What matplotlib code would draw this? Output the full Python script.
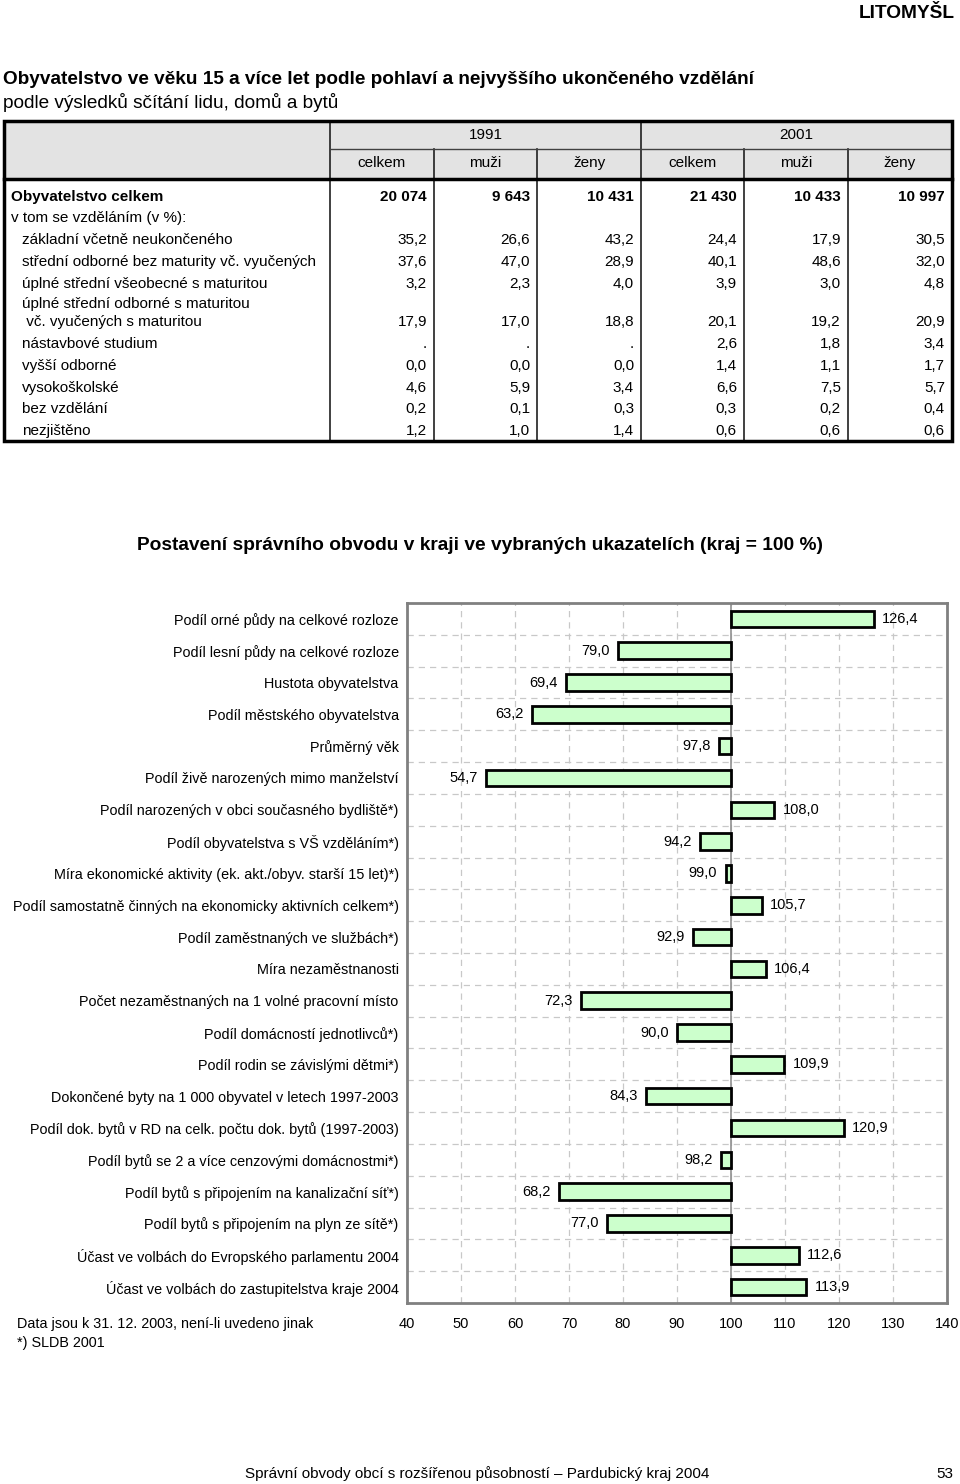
import matplotlib
matplotlib.use("Agg")
import matplotlib.pyplot as plt
from matplotlib.patches import Rectangle

plt.rcParams['font.family'] = ['Liberation Sans', 'DejaVu Sans']

# ---------------- data ----------------
page_title = "LITOMYŠL"
table_title1 = "Obyvatelstvo ve věku 15 a více let podle pohlaví a nejvyššího ukončeného vzdělání"
table_title2 = "podle výsledků sčítání lidu, domů a bytů"
years = ["1991", "2001"]
sub_cols = ["celkem", "muži", "ženy", "celkem", "muži", "ženy"]

total_label = "Obyvatelstvo celkem"
totals = [20074, 9643, 10431, 21430, 10433, 10997]
share_header = "v tom se vzděláním (v %):"
edu_labels = [
    "základní včetně neukončeného",
    "střední odborné bez maturity vč. vyučených",
    "úplné střední všeobecné s maturitou",
    "úplné střední odborné s maturitou\n vč. vyučených s maturitou",
    "nástavbové studium",
    "vyšší odborné",
    "vysokoškolské",
    "bez vzdělání",
    "nezjištěno",
]
edu_1991_celkem = [35.2, 37.6, 3.2, 17.9, None, 0.0, 4.6, 0.2, 1.2]
edu_1991_muzi = [26.6, 47.0, 2.3, 17.0, None, 0.0, 5.9, 0.1, 1.0]
edu_1991_zeny = [43.2, 28.9, 4.0, 18.8, None, 0.0, 3.4, 0.3, 1.4]
edu_2001_celkem = [24.4, 40.1, 3.9, 20.1, 2.6, 1.4, 6.6, 0.3, 0.6]
edu_2001_muzi = [17.9, 48.6, 3.0, 19.2, 1.8, 1.1, 7.5, 0.2, 0.6]
edu_2001_zeny = [30.5, 32.0, 4.8, 20.9, 3.4, 1.7, 5.7, 0.4, 0.6]

chart_title = "Postavení správního obvodu v kraji ve vybraných ukazatelích (kraj = 100 %)"
indicators = [
    "Podíl orné půdy na celkové rozloze",
    "Podíl lesní půdy na celkové rozloze",
    "Hustota obyvatelstva",
    "Podíl městského obyvatelstva",
    "Průměrný věk",
    "Podíl živě narozených mimo manželství",
    "Podíl narozených v obci současného bydliště*)",
    "Podíl obyvatelstva s VŠ vzděláním*)",
    "Míra ekonomické aktivity (ek. akt./obyv. starší 15 let)*)",
    "Podíl samostatně činných na ekonomicky aktivních celkem*)",
    "Podíl zaměstnaných ve službách*)",
    "Míra nezaměstnanosti",
    "Počet nezaměstnaných na 1 volné pracovní místo",
    "Podíl domácností jednotlivců*)",
    "Podíl rodin se závislými dětmi*)",
    "Dokončené byty na 1 000 obyvatel v letech 1997-2003",
    "Podíl dok. bytů v RD na celk. počtu dok. bytů (1997-2003)",
    "Podíl bytů se 2 a více cenzovými domácnostmi*)",
    "Podíl bytů s připojením na kanalizační síť*)",
    "Podíl bytů s připojením na plyn ze sítě*)",
    "Účast ve volbách do Evropského parlamentu 2004",
    "Účast ve volbách do zastupitelstva kraje 2004",
]
index_values = [126.4, 79.0, 69.4, 63.2, 97.8, 54.7, 108.0, 94.2, 99.0, 105.7, 92.9,
                106.4, 72.3, 90.0, 109.9, 84.3, 120.9, 98.2, 68.2, 77.0, 112.6, 113.9]
x_ticks = [40, 50, 60, 70, 80, 90, 100, 110, 120, 130, 140]
base_value = 100

note1 = "Data jsou k 31. 12. 2003, není-li uvedeno jinak"
note2 = "*) SLDB 2001"
footer = "Správní obvody obcí s rozšířenou působností – Pardubický kraj 2004"
page_no = "53"

# ---------------- figure ----------------
W, H = 960, 1484
fig = plt.figure(figsize=(W / 100, H / 100), dpi=100)
bg = fig.add_axes([0, 0, 1, 1])
bg.set_xlim(0, W)
bg.set_ylim(H, 0)
bg.axis('off')

narrow = ['Liberation Sans Narrow', 'Liberation Sans', 'DejaVu Sans']

def fmt_num(v):
    if v is None:
        return "."
    return f"{v:.1f}".replace(".", ",")

def fmt_int(v):
    return f"{v:,}".replace(",", " ")

bg.text(955, 13, page_title, ha='right', va='center', fontsize=13.8, fontweight='bold')
bg.text(3, 80, table_title1, ha='left', va='center', fontsize=13.7, fontweight='bold')
bg.text(3, 102, table_title2, ha='left', va='center', fontsize=13.7)

# table geometry
col_x = [4, 330, 434, 537, 641, 744, 848, 952]
t_top, t_head1, t_head2, t_bot = 121, 149, 179, 441
bg.add_patch(Rectangle((col_x[0], t_top), col_x[-1] - col_x[0], t_head2 - t_top,
                       facecolor='#e3e3e3', edgecolor='none', zorder=1))
lc = '#202020'
for i, x in enumerate(col_x[1:-1], start=1):
    if i in (1, 4):
        bg.plot([x, x], [t_top, t_bot], color=lc, lw=1.2, zorder=3)
    else:
        bg.plot([x, x], [t_head1, t_bot], color=lc, lw=1.2, zorder=3)
bg.plot([col_x[1], col_x[-1]], [t_head1, t_head1], color='#404040', lw=1.0, zorder=3)
bg.plot([col_x[0], col_x[-1]], [t_head2, t_head2], color='black', lw=2.5, zorder=4)
bg.add_patch(Rectangle((col_x[0], t_top), col_x[-1] - col_x[0], t_bot - t_top,
                       facecolor='none', edgecolor='black', lw=2.5, zorder=5))

fs_t = 11
for j, yr in enumerate(years):
    xc = (col_x[1 + 3 * j] + col_x[4 + 3 * j]) / 2
    bg.text(xc, 135, yr, ha='center', va='center', fontsize=fs_t)
for j, sc in enumerate(sub_cols):
    xc = (col_x[1 + j] + col_x[2 + j]) / 2
    bg.text(xc, 163, sc, ha='center', va='center', fontsize=fs_t)

bg.text(11, 197, total_label, ha='left', va='center', fontsize=fs_t, fontweight='bold')
for j, v in enumerate(totals):
    bg.text(col_x[2 + j] - 7, 197, fmt_int(v), ha='right', va='center',
            fontsize=fs_t, fontweight='bold')
bg.text(11, 218, share_header, ha='left', va='center', fontsize=fs_t)

row_y = [240, 262, 284, 322, 344, 366, 388, 409, 431]
cols = [edu_1991_celkem, edu_1991_muzi, edu_1991_zeny,
        edu_2001_celkem, edu_2001_muzi, edu_2001_zeny]
for i, lab in enumerate(edu_labels):
    y = row_y[i]
    if "\n" in lab:
        l1, l2 = lab.split("\n")
        bg.text(22, y - 18, l1, ha='left', va='center', fontsize=fs_t)
        bg.text(22, y, l2, ha='left', va='center', fontsize=fs_t)
    else:
        bg.text(22, y, lab, ha='left', va='center', fontsize=fs_t)
    for j, c in enumerate(cols):
        bg.text(col_x[2 + j] - 7, y, fmt_num(c[i]), ha='right', va='center', fontsize=fs_t)

# chart title
bg.text(480, 546, chart_title, ha='center', va='center', fontsize=13.8, fontweight='bold')

# notes & footer
bg.text(17, 1324, note1, ha='left', va='center', fontsize=10.4, family=narrow)
bg.text(17, 1343, note2, ha='left', va='center', fontsize=10.4, family=narrow)
bg.text(477, 1474, footer, ha='center', va='center', fontsize=11, family=narrow)
bg.text(953, 1474, page_no, ha='right', va='center', fontsize=11, family=narrow)

# ---------------- bar chart ----------------
ax_l, ax_r, ax_t, ax_b = 407, 947, 603, 1303
ax = fig.add_axes([ax_l / W, 1 - ax_b / H, (ax_r - ax_l) / W, (ax_b - ax_t) / H])
n = len(indicators)
ypos = list(range(n))
ax.set_xlim(x_ticks[0], x_ticks[-1])
ax.set_ylim(n - 0.5, -0.5)

for xt in x_ticks[1:-1]:
    ax.axvline(xt, color='#c8c8c8', lw=0.9, ls=(0, (5, 4)), zorder=0)
for k in range(n - 1):
    ax.axhline(k + 0.5, color='#c8c8c8', lw=0.9, ls=(0, (5, 4)), zorder=0)
ax.axvline(base_value, color='#909090', lw=1.2, zorder=1)

widths = [v - base_value for v in index_values]
ax.barh(ypos, widths, left=base_value, height=0.52, color='#ccffcc',
        edgecolor='black', linewidth=2, zorder=3)

for y, v in zip(ypos, index_values):
    txt = fmt_num(v)
    if v >= base_value:
        ax.annotate(txt, (v, y), xytext=(6, 0), textcoords='offset points',
                    ha='left', va='center', fontsize=10.5)
    else:
        ax.annotate(txt, (v, y), xytext=(-6, 0), textcoords='offset points',
                    ha='right', va='center', fontsize=10.5)

ax.set_yticks(ypos)
ax.set_yticklabels(indicators, fontsize=10.4)
ax.set_xticks(x_ticks)
ax.set_xticklabels([str(t) for t in x_ticks], fontsize=10.5)
ax.tick_params(axis='both', length=0)
ax.tick_params(axis='y', pad=6)
ax.tick_params(axis='x', pad=10)
for s in ax.spines.values():
    s.set_color('#808080')
    s.set_linewidth(2)

fig.savefig("out.png", dpi=100)
